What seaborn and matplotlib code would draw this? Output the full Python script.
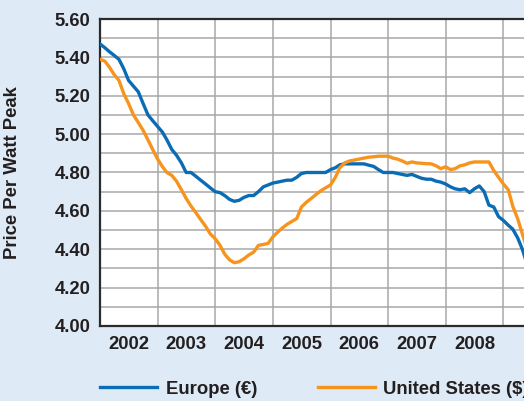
import numpy as np
import pandas as pd
import seaborn as sns
import matplotlib.pyplot as plt
import matplotlib.dates as mdates
from matplotlib.ticker import MultipleLocator, FixedLocator

# monthly module prices, Jan 2002 onwards
months = pd.date_range('2002-01-01', periods=90, freq='MS')

europe = [5.47, 5.45, 5.43, 5.41, 5.39, 5.34, 5.28, 5.25, 5.22, 5.16,
          5.10, 5.07, 5.04, 5.01, 4.97, 4.92, 4.89, 4.85, 4.80, 4.80,
          4.78, 4.76, 4.74, 4.72, 4.70, 4.695, 4.68, 4.66, 4.65, 4.655,
          4.67, 4.68, 4.68, 4.70, 4.725, 4.735, 4.745, 4.75, 4.755, 4.76,
          4.76, 4.775, 4.795, 4.80, 4.80, 4.80, 4.80, 4.80, 4.815, 4.825,
          4.84, 4.845, 4.845, 4.845, 4.845, 4.845, 4.838, 4.832, 4.815, 4.80,
          4.80, 4.80, 4.795, 4.79, 4.785, 4.79, 4.78, 4.77, 4.765, 4.765,
          4.755, 4.75, 4.74, 4.725, 4.715, 4.71, 4.715, 4.695, 4.715, 4.73,
          4.70, 4.63, 4.62, 4.57, 4.55, 4.525, 4.505, 4.46, 4.40, 4.32]

united_states = [5.39, 5.38, 5.35, 5.31, 5.28, 5.21, 5.16, 5.10, 5.06, 5.02,
                 4.97, 4.92, 4.87, 4.83, 4.80, 4.785, 4.755, 4.71, 4.665, 4.625,
                 4.59, 4.555, 4.52, 4.48, 4.455, 4.42, 4.375, 4.345, 4.33, 4.335,
                 4.35, 4.37, 4.385, 4.42, 4.425, 4.43, 4.465, 4.49, 4.51, 4.53,
                 4.545, 4.56, 4.62, 4.645, 4.665, 4.685, 4.705, 4.72, 4.735, 4.775,
                 4.825, 4.85, 4.86, 4.865, 4.87, 4.875, 4.88, 4.882, 4.885, 4.885,
                 4.885, 4.875, 4.87, 4.86, 4.848, 4.855, 4.85, 4.848, 4.846, 4.845,
                 4.835, 4.82, 4.83, 4.815, 4.82, 4.835, 4.84, 4.85, 4.855, 4.855,
                 4.855, 4.855, 4.81, 4.775, 4.74, 4.71, 4.625, 4.56, 4.48, 4.40]

series_names = ['Europe (€)', 'United States ($)']
colors = ['#0a6cb5', '#f7941d']
year_labels = [2002, 2003, 2004, 2005, 2006, 2007, 2008]

df = pd.DataFrame({
    'month': list(months) * 2,
    'price': europe + united_states,
    'region': [series_names[0]] * len(months) + [series_names[1]] * len(months),
})

plt.rcParams['font.family'] = ['Liberation Sans', 'DejaVu Sans']
text_color = '#231f20'
bg = '#deeaf6'
fs = 13.3

fig = plt.figure(figsize=(5.24, 4.01), dpi=100, facecolor=bg)
# axes runs past the right edge of the canvas, as in the original crop
ax = fig.add_axes([100 / 524, 75 / 401, 461 / 524, 307 / 401])
ax.set_facecolor('white')

sns.lineplot(data=df, x='month', y='price', hue='region',
             palette=colors, linewidth=2.4, ax=ax, legend=False, zorder=3)

ax.set_xlim(pd.Timestamp('2002-01-01'), pd.Timestamp('2010-01-01'))
ax.set_ylim(4.0, 5.6)

# gridlines at year boundaries, labels mid-year
ax.xaxis.set_major_locator(mdates.YearLocator())
ax.xaxis.set_major_formatter(plt.NullFormatter())
mid = [mdates.date2num(pd.Timestamp(f'{y}-07-02')) for y in year_labels]
ax.xaxis.set_minor_locator(FixedLocator(mid))
ax.xaxis.set_minor_formatter(plt.FixedFormatter([str(y) for y in year_labels]))

ax.yaxis.set_major_locator(MultipleLocator(0.2))
ax.yaxis.set_minor_locator(MultipleLocator(0.1))
ax.yaxis.set_major_formatter(plt.FuncFormatter(lambda v, p: f'{v:.2f}'))

ax.tick_params(axis='both', which='both', length=0)
ax.tick_params(axis='y', which='major', pad=7, labelsize=fs,
               labelcolor=text_color)
ax.tick_params(axis='x', which='minor', pad=7, labelsize=fs,
               labelcolor=text_color)
for lbl in ax.get_yticklabels() + ax.get_xticklabels(minor=True):
    lbl.set_fontweight('bold')

ax.grid(True, which='both', axis='y', color='#a8a8a8', linewidth=1.1, zorder=1)
ax.grid(True, which='major', axis='x', color='#a8a8a8', linewidth=1.1, zorder=1)
ax.set_axisbelow(True)

for side in ['left', 'bottom', 'top']:
    ax.spines[side].set_color('#2b2b2b')
    ax.spines[side].set_linewidth(1.6)
ax.spines['right'].set_visible(False)

ax.set_xlabel('')
ax.set_ylabel('Price Per Watt Peak', fontsize=fs, fontweight='bold',
              color=text_color)
ax.yaxis.set_label_coords(21 / 524, 1 - 172.5 / 401, transform=fig.transFigure)

handles = [plt.Line2D([], [], color=c, linewidth=2.4) for c in colors]
leg = fig.legend(handles, series_names, loc='center left',
                 bbox_to_anchor=(100 / 524, 12 / 401), ncol=2, frameon=False,
                 handlelength=3.1, handletextpad=0.45, columnspacing=3.3,
                 borderpad=0, borderaxespad=0,
                 prop={'size': fs, 'weight': 'bold'})
for t in leg.get_texts():
    t.set_color(text_color)

fig.savefig('out.png', dpi=100, facecolor=bg)
